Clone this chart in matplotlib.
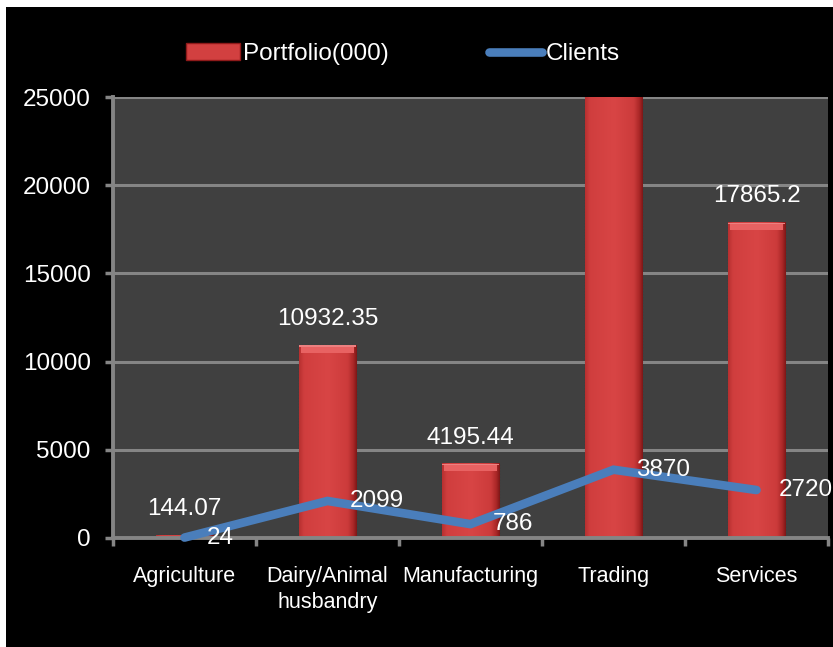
import numpy as np
import matplotlib
matplotlib.use('Agg')
import matplotlib.pyplot as plt
from matplotlib.colors import LinearSegmentedColormap
from matplotlib.patches import Rectangle
from matplotlib.lines import Line2D

# ── data ──────────────────────────────────────────────
categories = ['Agriculture', 'Dairy/Animal\nhusbandry', 'Manufacturing', 'Trading', 'Services']
portfolio = [144.07, 10932.35, 4195.44, 30000, 17865.2]   # Trading is cut off above 25000
portfolio_labels = ['144.07', '10932.35', '4195.44', '', '17865.2']
clients = [24, 2099, 786, 3870, 2720]
yticks = [0, 5000, 10000, 15000, 20000, 25000]

plt.rcParams['font.family'] = ['Liberation Sans', 'DejaVu Sans']

BG = '#000000'
PLOT_BG = '#404040'
GRID = '#858585'
LINE_C = '#4A7EBB'
BAR_C = '#D24040'

fig = plt.figure(figsize=(8.33, 6.47), dpi=100, facecolor='white')
# black chart area with thin white border top/left
fig.patches.append(Rectangle((6 / 833, 0), 1, 1 - 7 / 647, transform=fig.transFigure,
                             facecolor=BG, edgecolor='none', zorder=-10))

ax = fig.add_axes([113 / 833, 1 - 538 / 647, 715 / 833, 441 / 647])
ax.set_facecolor(PLOT_BG)
x = np.arange(len(categories))
YMAX = 25000
ax.set_xlim(-0.5, len(categories) - 0.5)
ax.set_ylim(0, YMAX)

# grid
ax.set_yticks(yticks)
ax.yaxis.grid(True, color=GRID, linewidth=2.2)
ax.set_axisbelow(True)
for s in ['top', 'right']:
    ax.spines[s].set_visible(False)
for s in ['left', 'bottom']:
    ax.spines[s].set_color(GRID)
    ax.spines[s].set_linewidth(2.8)

# bars: flat red body, darker right edge, bevelled top
bars = ax.bar(x, portfolio, width=0.4, color=BAR_C, zorder=2,
              edgecolor='#262626', linestyle=':', linewidth=0.8)
cmap = LinearSegmentedColormap.from_list(
    'cyl', [(0, '#B83030'), (0.08, '#D03E3E'), (0.5, '#D84545'),
            (0.85, '#CC3B3B'), (0.95, '#A82626'), (1, '#801818')])
grad = np.linspace(0, 1, 64).reshape(1, -1)
bevel = 420   # data units, about 7 px
for b in bars:
    bx, bw, bh = b.get_x(), b.get_width(), b.get_height()
    top = min(bh, YMAX)
    ax.imshow(grad, cmap=cmap, aspect='auto', extent=[bx, bx + bw, 0, top],
              zorder=2.1, interpolation='bicubic')
    if bh <= YMAX and bh > bevel:
        ax.add_patch(Rectangle((bx + bw * 0.04, bh - bevel), bw * 0.92, bevel,
                               facecolor='#E86262', edgecolor='none', zorder=2.2))
        ax.add_patch(Rectangle((bx, bh - 80), bw, 80,
                               facecolor='#EC8080', edgecolor='none', zorder=2.3))
ax.set_xlim(-0.5, len(categories) - 0.5)
ax.set_ylim(0, YMAX)

for xi, v, lab in zip(x, portfolio, portfolio_labels):
    if lab:
        ax.annotate(lab, (xi, v), xytext=(0, 19), textcoords='offset points',
                    ha='center', va='center', color='white', fontsize=17.5, zorder=5)

# clients line
ax.plot(x, clients, color=LINE_C, linewidth=6.2, solid_capstyle='round',
        solid_joinstyle='miter', zorder=4, clip_on=False)
for xi, v in zip(x, clients):
    ax.annotate(str(v), (xi, v), xytext=(16, 0), textcoords='offset points',
                ha='left', va='center', color='white', fontsize=17.5, zorder=5,
                annotation_clip=False)

# ticks
ax.set_yticklabels([str(t) for t in yticks], color='white', fontsize=17.5)
ax.tick_params(axis='y', length=6, width=2.5, color=GRID, pad=10)
ax.set_xticks(np.arange(-0.5, len(categories), 1.0))
ax.set_xticklabels([])
ax.set_xticks(x, minor=True)
ax.set_xticklabels(categories, minor=True, color='white', fontsize=15.5, linespacing=1.35)
ax.tick_params(axis='x', which='major', length=6, width=2.5, color=GRID)
ax.tick_params(axis='x', which='minor', length=0, pad=20)

# legend
handles = [Rectangle((0, 0), 1, 1, facecolor=BAR_C, edgecolor='#8E1A1A'),
           Line2D([0], [0], color=LINE_C, linewidth=6.2, solid_capstyle='round')]
leg = fig.legend(handles, ['Portfolio(000)', 'Clients'], loc='center',
                 bbox_to_anchor=(403 / 833, 1 - 54 / 647), ncol=2, frameon=False,
                 fontsize=17.5, handlelength=2.2, handletextpad=0.15,
                 columnspacing=4.1)
for t in leg.get_texts():
    t.set_color('white')

fig.savefig('out.png', dpi=100, facecolor=fig.get_facecolor())
